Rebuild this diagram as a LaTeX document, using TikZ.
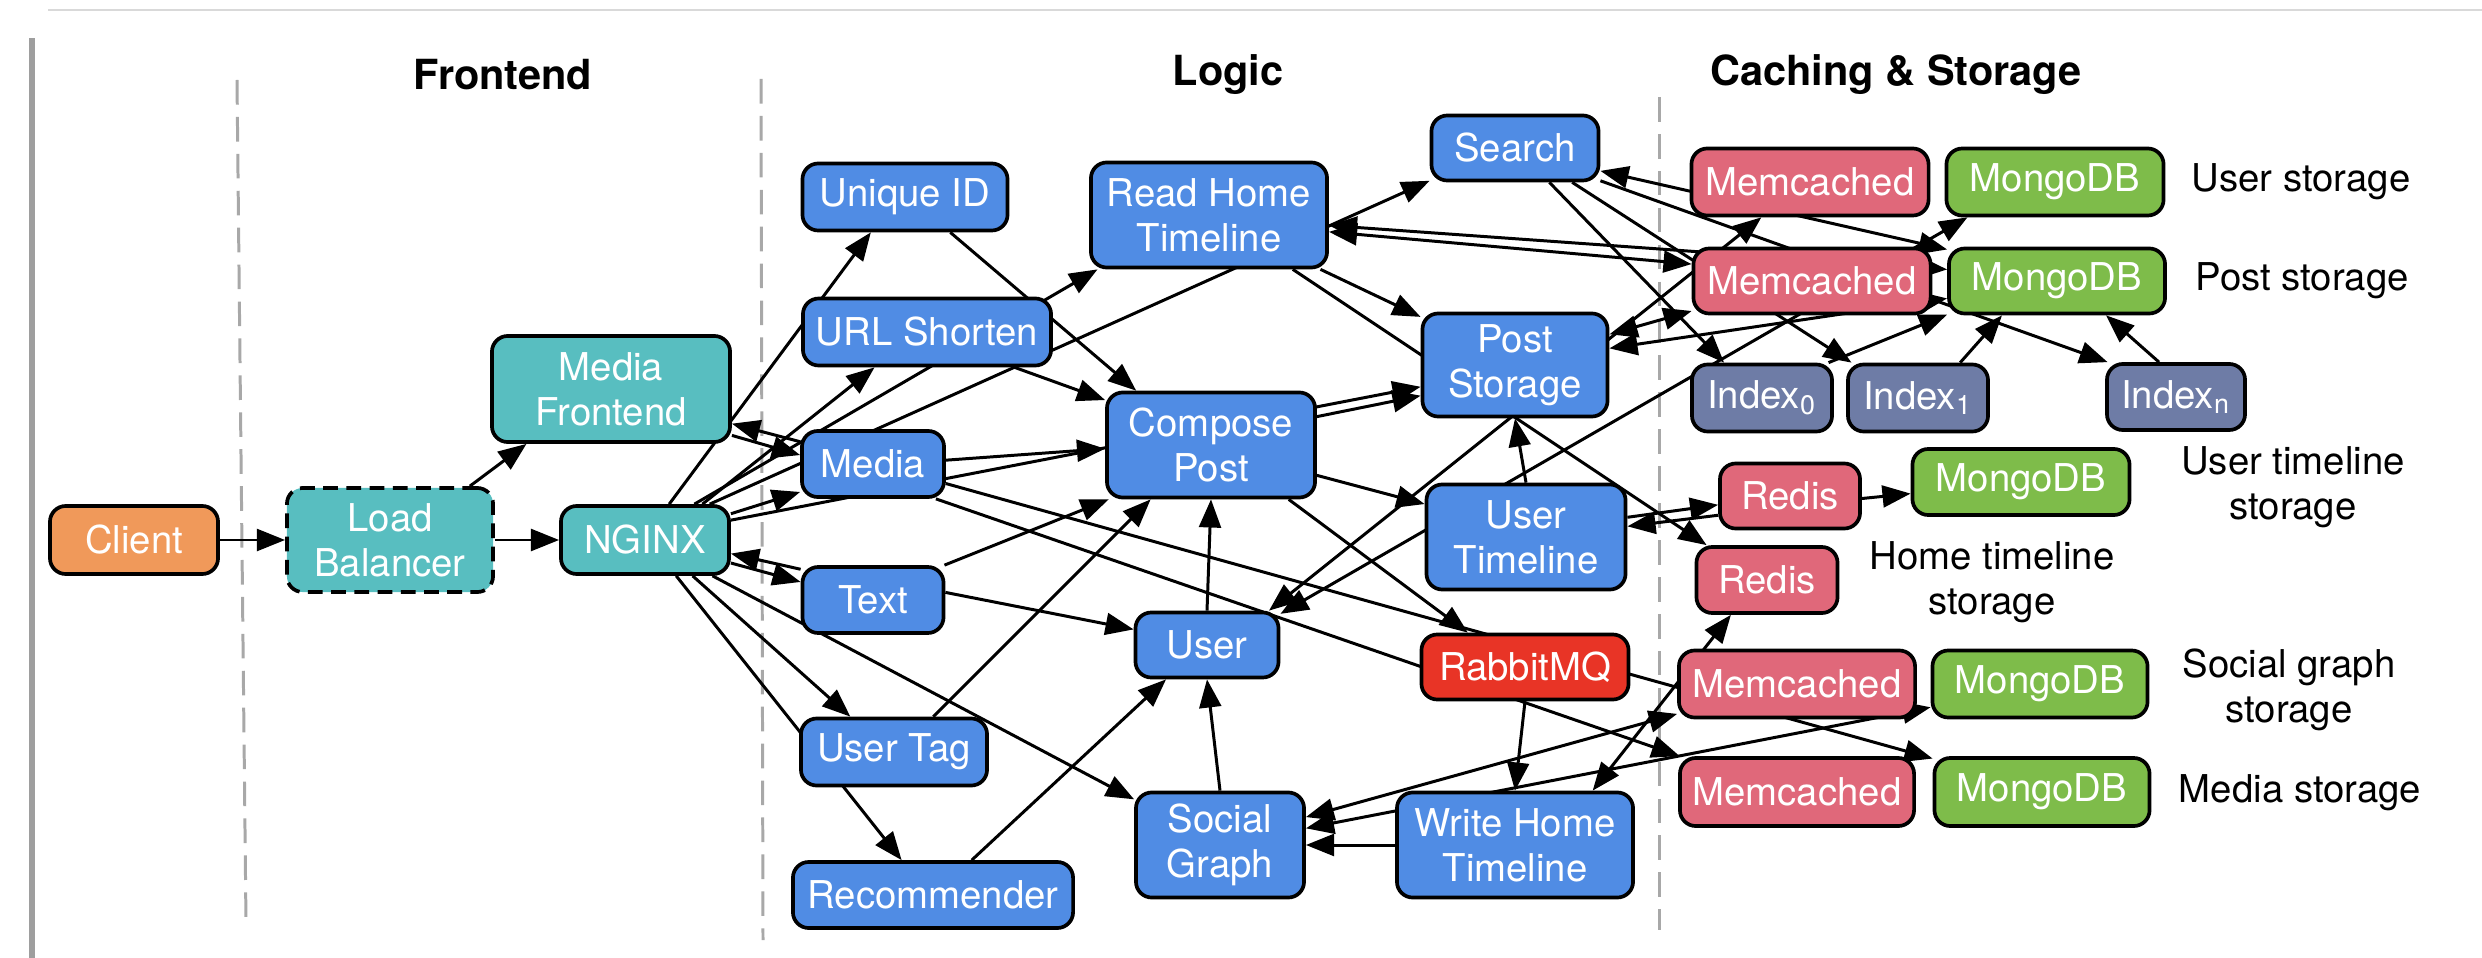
\documentclass[tikz,border=0pt]{standalone}
\usepackage{fontspec}
\setmainfont{TeX Gyre Heros}
\usepackage{tikz}
\usetikzlibrary{arrows.meta}
\definecolor{LogicBlue}{HTML}{508CE4}
\definecolor{FrontTeal}{HTML}{58BEC0}
\definecolor{ClientOrange}{HTML}{F0995A}
\definecolor{QueueRed}{HTML}{E83426}
\definecolor{CachePink}{HTML}{E0687A}
\definecolor{DbGreen}{HTML}{7EBC4A}
\definecolor{IndexSlate}{HTML}{6E7CA6}
\definecolor{DividerGray}{HTML}{A8A8A8}
\pgfdeclarelayer{bg}
\pgfsetlayers{bg,main}
\newcommand{\svcfont}{\fontsize{10.9}{12.8}\selectfont}
\newcommand{\headfont}{\fontsize{11.8}{13}\selectfont\bfseries}

\begin{document}
\begin{tikzpicture}[x=0.01cm, y=-0.01cm,
    svc/.style={draw=black, line width=1.05pt, rounded corners=4.5pt, text=white,
      font=\svcfont, align=center, inner sep=0pt},
    sz/.style 2 args={minimum width=#1cm, minimum height=#2cm},
    logic/.style={svc, fill=LogicBlue},
    front/.style={svc, fill=FrontTeal},
    cache/.style={svc, fill=CachePink},
    db/.style={svc, fill=DbGreen},
    idx/.style={svc, fill=IndexSlate},
    lbl/.style={font=\svcfont, align=center, inner sep=0pt},
    head/.style={font=\headfont, inner sep=0pt},
    arr/.style={-{Triangle[length=8pt, width=6.2pt]}, line width=0.85pt},
    biarr/.style={{Triangle[length=8pt, width=6.2pt]}-{Triangle[length=8pt, width=6.2pt]}, line width=0.85pt}]
  \useasboundingbox (0,0) rectangle (2482,958);

  % Page rules
  \draw[color=black!15, line width=0.6pt] (48,10) -- (2482,10);
  \fill[color=black!38] (29,38) rectangle (35,958);

  % Column headings
  \node[head] (hFront) at (503,75) {Frontend};
  \node[head] (hLogic) at (1228,75) {Logic};
  \node[head] (hStore) at (1896,75) {Caching \& Storage};

  % Frontend
  \node[svc, fill=ClientOrange, sz={1.68}{0.68}] (client) at (134,540) {Client};
  \node[front, dash pattern=on 4.2pt off 2.4pt, sz={2.06}{1.04}] (lb) at (390,540) {Load\\Balancer};
  \node[front, sz={2.38}{1.06}] (mf) at (611,389) {Media\\Frontend};
  \node[front, sz={1.68}{0.68}] (nginx) at (645,540) {NGINX};

  % Logic tier
  \node[logic, sz={2.05}{0.67}] (uid) at (905,197) {Unique ID};
  \node[logic, sz={2.48}{0.67}] (urls) at (927,332) {URL Shorten};
  \node[logic, sz={1.42}{0.66}] (media) at (873,464) {Media};
  \node[logic, sz={1.41}{0.66}] (text) at (873,600) {Text};
  \node[logic, sz={1.86}{0.67}] (usertag) at (894,752) {User Tag};
  \node[logic, sz={2.80}{0.66}] (rec) at (933,895) {Recommender};
  \node[logic, sz={2.36}{1.05}] (rht) at (1209,215) {Read Home\\Timeline};
  \node[logic, sz={2.08}{1.05}] (cp) at (1211,445) {Compose\\Post};
  \node[logic, sz={1.43}{0.65}] (user) at (1207,645) {User};
  \node[logic, sz={1.68}{1.05}] (sg) at (1220,845) {Social\\Graph};
  \node[logic, sz={1.67}{0.65}] (search) at (1515,148) {Search};
  \node[logic, sz={1.85}{1.03}] (ps) at (1515,365) {Post\\Storage};
  \node[logic, sz={1.99}{1.05}] (ut) at (1526,537) {User\\Timeline};
  \node[svc, fill=QueueRed, sz={2.07}{0.65}] (rabbit) at (1525,667) {RabbitMQ};
  \node[logic, sz={2.36}{1.05}] (wht) at (1515,845) {Write Home\\Timeline};

  % Caching & storage
  \node[cache, sz={2.37}{0.67}] (mcuser) at (1810,182) {Memcached};
  \node[db, sz={2.17}{0.67}] (mdbuser) at (2055,182) {MongoDB};
  \node[cache, sz={2.37}{0.65}] (mcpost) at (1812,281) {Memcached};
  \node[db, sz={2.16}{0.65}] (mdbpost) at (2057,281) {MongoDB};
  \node[idx, sz={1.40}{0.67}] (idx0) at (1762,398) {Index\textsubscript{0}};
  \node[idx, sz={1.40}{0.67}] (idx1) at (1918,398) {Index\textsubscript{1}};
  \node[idx, sz={1.38}{0.66}] (idxn) at (2176,397) {Index\textsubscript{n}};
  \node[cache, sz={1.40}{0.65}] (redisut) at (1790,496) {Redis};
  \node[db, sz={2.17}{0.66}] (mdbut) at (2021,482) {MongoDB};
  \node[cache, sz={1.41}{0.66}] (redisht) at (1767,580) {Redis};
  \node[cache, sz={2.36}{0.67}] (mcsocial) at (1797,684) {Memcached};
  \node[db, sz={2.15}{0.67}] (mdbsocial) at (2040,684) {MongoDB};
  \node[cache, sz={2.34}{0.68}] (mcmedia) at (1797,792) {Memcached};
  \node[db, sz={2.15}{0.68}] (mdbmedia) at (2042,792) {MongoDB};

  % Storage captions
  \node[lbl] (lblUser) at (2301,182) {User storage};
  \node[lbl] (lblPost) at (2302,281) {Post storage};
  \node[lbl] (lblUT) at (2293,487) {User timeline\\storage};
  \node[lbl] (lblHT) at (1992,582) {Home timeline\\storage};
  \node[lbl] (lblSG) at (2289,690) {Social graph\\storage};
  \node[lbl] (lblMedia) at (2300,793) {Media storage};

  \begin{pgfonlayer}{bg}
    % Column dividers
    \foreach \xa/\ya/\xb/\yb in {237/80/246/923, 761/79/763/940, 1659/97/1659/930}{
      \draw[DividerGray, line width=0.85pt, dash pattern=on 7pt off 3.5pt]
        (\xa,\ya) -- (\xb,\yb);
    }

    % One-way calls
    \foreach \s/\t in {
        client.east/lb.west, lb.34/mf.213, lb.east/nginx.west,
        media.163/mf.344, mf.339/media.173,
        text.157/nginx.351, nginx.345/text.166,
        nginx.56/uid.226, nginx.32/urls.214, nginx.36/rht.206,
        nginx.29/search.201, nginx.17/media.201, nginx.13/ps.193,
        nginx.323/usertag.141, nginx.311/rec.132, nginx.332/sg.152,
        uid.322/cp.144, urls.338/cp.157, media.3/cp.182, text.26/cp.208,
        text.6/user.168, usertag.42/cp.222, user.north/cp.south,
        rec.42/user.220, sg.north/user.south,
        cp.15/ps.198, cp.344/ut.162, cp.325/rabbit.149,
        rht.334/ps.153, rht.327/redisht.150,
        ut.north/ps.south, rabbit.south/wht.north, wht.west/sg.east,
        media.331/mcmedia.163, media.345/mdbmedia.163,
        search.315/idx0.137, search.329/idx1.152, search.339/idxn.153,
        idx0.28/mdbpost.197, idx1.40/mdbpost.212, idxn.116/mdbpost.325,
        redisut.195/ut.6, ut.11/redisut.187, redisut.358/mdbut.186}{
      \draw[arr] (\s) -- (\t);
    }

    % Two-way calls
    \foreach \s/\t in {
        rht.352/mcpost.172, rht.355/mdbpost.174, search.345/mdbpost.164,
        user.29/mcuser.216, user.23/mdbuser.202,
        ps.18/mcpost.194, ps.10/mdbpost.189, wht.35/redisht.224,
        sg.18/mcsocial.194, sg.11/mdbsocial.192}{
      \draw[biarr] (\s) -- (\t);
    }
  \end{pgfonlayer}
\end{tikzpicture}
\end{document}
